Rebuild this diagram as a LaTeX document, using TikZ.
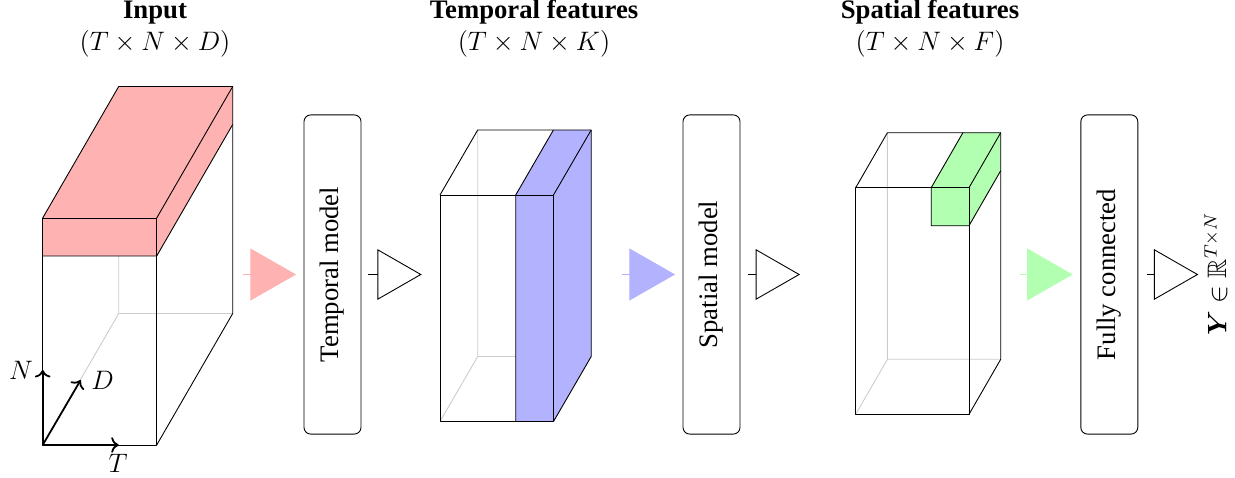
\documentclass[tikz,border=0pt]{standalone}
\usepackage{amsmath,amssymb}
\usepackage{fontspec}
\setmainfont{Liberation Serif}
\usetikzlibrary{arrows.meta}

\begin{document}
\begin{tikzpicture}[
  x=0.015789cm, y=-0.015789cm,
  every node/.style={font=\large},
  cubeline/.style={black, line width=0.4pt, line join=round},
  hiddenline/.style={black!20, line width=0.4pt},
  modelbox/.style={draw, line width=0.4pt, rounded corners=3pt, rotate=90,
    minimum width=5.04cm, minimum height=0.9cm, inner sep=0pt},
  fillarrow/.style={draw=#1, line width=0.4pt,
    -{Triangle[length=0.72cm, width=0.82cm, fill=#1, color=#1]}},
  openarrow/.style={black, line width=0.4pt,
    -{Triangle[open, length=0.70cm, width=0.80cm]}},
  titletext/.style={font=\large\bfseries, anchor=base},
  dimlabel/.style={anchor=base},
  axis/.style={thick, ->},
]
\useasboundingbox (0,0) rectangle (1235,478);

% ---------- input tensor T x N x D ----------
\coordinate (iA) at (42.7,445);   \coordinate (iB) at (156.7,445);
\coordinate (iC) at (156.7,218);  \coordinate (iD) at (42.7,218);
\coordinate (iA') at (118.7,313.5); \coordinate (iB') at (232.7,313.5);
\coordinate (iC') at (232.7,86.5);  \coordinate (iD') at (118.7,86.5);
\coordinate (iS) at (42.7,256);   \coordinate (iT) at (156.7,256);
\coordinate (iT') at (232.7,124.5);
\draw[hiddenline] (iA) -- (iA') -- (iB') (iA') -- (iD');
\fill[red!30] (iS) -- (iT) -- (iC) -- (iD) -- cycle;
\fill[red!30] (iT) -- (iT') -- (iC') -- (iC) -- cycle;
\fill[red!30] (iD) -- (iC) -- (iC') -- (iD') -- cycle;
\draw[cubeline] (iA) rectangle (iC);
\draw[cubeline] (iB) -- (iB') -- (iC') -- (iD') -- (iD);
\draw[cubeline] (iC) -- (iC');
\draw[cubeline] (iS) -- (iT) -- (iT');

% axes
\draw[axis] (iA) -- (42.7,370) node[coordinate] (axN) {};
\draw[axis] (iA) -- (118.7,445) node[coordinate] (axT) {};
\draw[axis] (iA) -- (80.7,380) node[coordinate] (axD) {};
\node (lN) at (21,370) {$N$};
\node (lD) at (102.5,380) {$D$};
\node (lT) at (118,463.5) {$T$};

% ---------- temporal features T x N x K ----------
\coordinate (tA) at (440,421.5);   \coordinate (tB) at (553.5,421.5);
\coordinate (tC) at (553.5,195);   \coordinate (tD) at (440,195);
\coordinate (tA') at (477.7,356.5); \coordinate (tB') at (591.2,356.5);
\coordinate (tC') at (591.2,130);   \coordinate (tD') at (477.7,130);
\coordinate (tE) at (515.7,421.5); \coordinate (tF) at (515.7,195);
\coordinate (tF') at (553.4,130);
\draw[hiddenline] (tA) -- (tA') -- (tB') (tA') -- (tD');
\fill[blue!30] (tE) -- (tB) -- (tC) -- (tF) -- cycle;
\fill[blue!30] (tB) -- (tB') -- (tC') -- (tC) -- cycle;
\fill[blue!30] (tF) -- (tC) -- (tC') -- (tF') -- cycle;
\draw[cubeline] (tA) rectangle (tC);
\draw[cubeline] (tE) -- (tF) -- (tF');
\draw[cubeline] (tB) -- (tB') -- (tC') -- (tD') -- (tD);
\draw[cubeline] (tC) -- (tC');

% ---------- spatial features T x N x F ----------
\coordinate (sA) at (855.7,414.3);  \coordinate (sB) at (969,414.3);
\coordinate (sC) at (969,187.7);    \coordinate (sD) at (855.7,187.7);
\coordinate (sA') at (887.4,359.3); \coordinate (sB') at (1000.7,359.3);
\coordinate (sC') at (1000.7,132.7); \coordinate (sD') at (887.4,132.7);
\coordinate (sG) at (931.2,187.7);  \coordinate (sH) at (931.2,225.7);
\coordinate (sK) at (969,225.7);    \coordinate (sK') at (1000.7,170.7);
\coordinate (sG') at (962.9,132.7);
\draw[hiddenline] (sA) -- (sA') -- (sB') (sA') -- (sD');
\fill[green!30] (sH) -- (sK) -- (sC) -- (sG) -- cycle;
\fill[green!30] (sK) -- (sK') -- (sC') -- (sC) -- cycle;
\fill[green!30] (sG) -- (sC) -- (sC') -- (sG') -- cycle;
\draw[cubeline] (sA) rectangle (sC);
\draw[cubeline] (sB) -- (sB') -- (sC') -- (sD') -- (sD);
\draw[cubeline] (sC) -- (sC');
\draw[cubeline] (sG) -- (sH) -- (sK) -- (sK');
\draw[cubeline] (sG) -- (sG');

% ---------- titles ----------
\node[titletext] (ti1) at (155,18.3) {Input};
\node[dimlabel] (td1) at (155,50.5) {$(T\times N\times D)$};
\node[titletext] (ti2) at (534,18.3) {Temporal features};
\node[dimlabel] (td2) at (534,50.5) {$(T\times N\times K)$};
\node[titletext] (ti3) at (930,18.3) {Spatial features};
\node[dimlabel] (td3) at (930,50.5) {$(T\times N\times F)$};

% ---------- model blocks ----------
\node[modelbox] (tm) at (332.5,274.5) {Temporal model};
\node[modelbox] (sm) at (711.5,274.5) {Spatial model};
\node[modelbox] (fc) at (1109.3,274.5) {Fully connected};

% ---------- arrows ----------
\coordinate (p1a) at (243,274.5);    \coordinate (p1b) at (296,274.5);
\coordinate (o1a) at (368,274.5);    \coordinate (o1b) at (421.7,274.5);
\coordinate (p2a) at (621.7,274.5);  \coordinate (p2b) at (675,274.5);
\coordinate (o2a) at (748.3,274.5);  \coordinate (o2b) at (800,274.5);
\coordinate (p3a) at (1020,274.5);   \coordinate (p3b) at (1072.7,274.5);
\coordinate (o3a) at (1146.7,274.5); \coordinate (o3b) at (1198.3,274.5);
\draw[fillarrow=red!30] (p1a) -- (p1b);
\draw[openarrow] (o1a) -- (o1b);
\draw[fillarrow=blue!30] (p2a) -- (p2b);
\draw[openarrow] (o2a) -- (o2b);
\draw[fillarrow=green!30] (p3a) -- (p3b);
\draw[openarrow] (o3a) -- (o3b);

% output
\node[rotate=90] (yout) at (1216,274) {$\boldsymbol{Y}\in\mathbb{R}^{T\times N}$};
\end{tikzpicture}
\end{document}
